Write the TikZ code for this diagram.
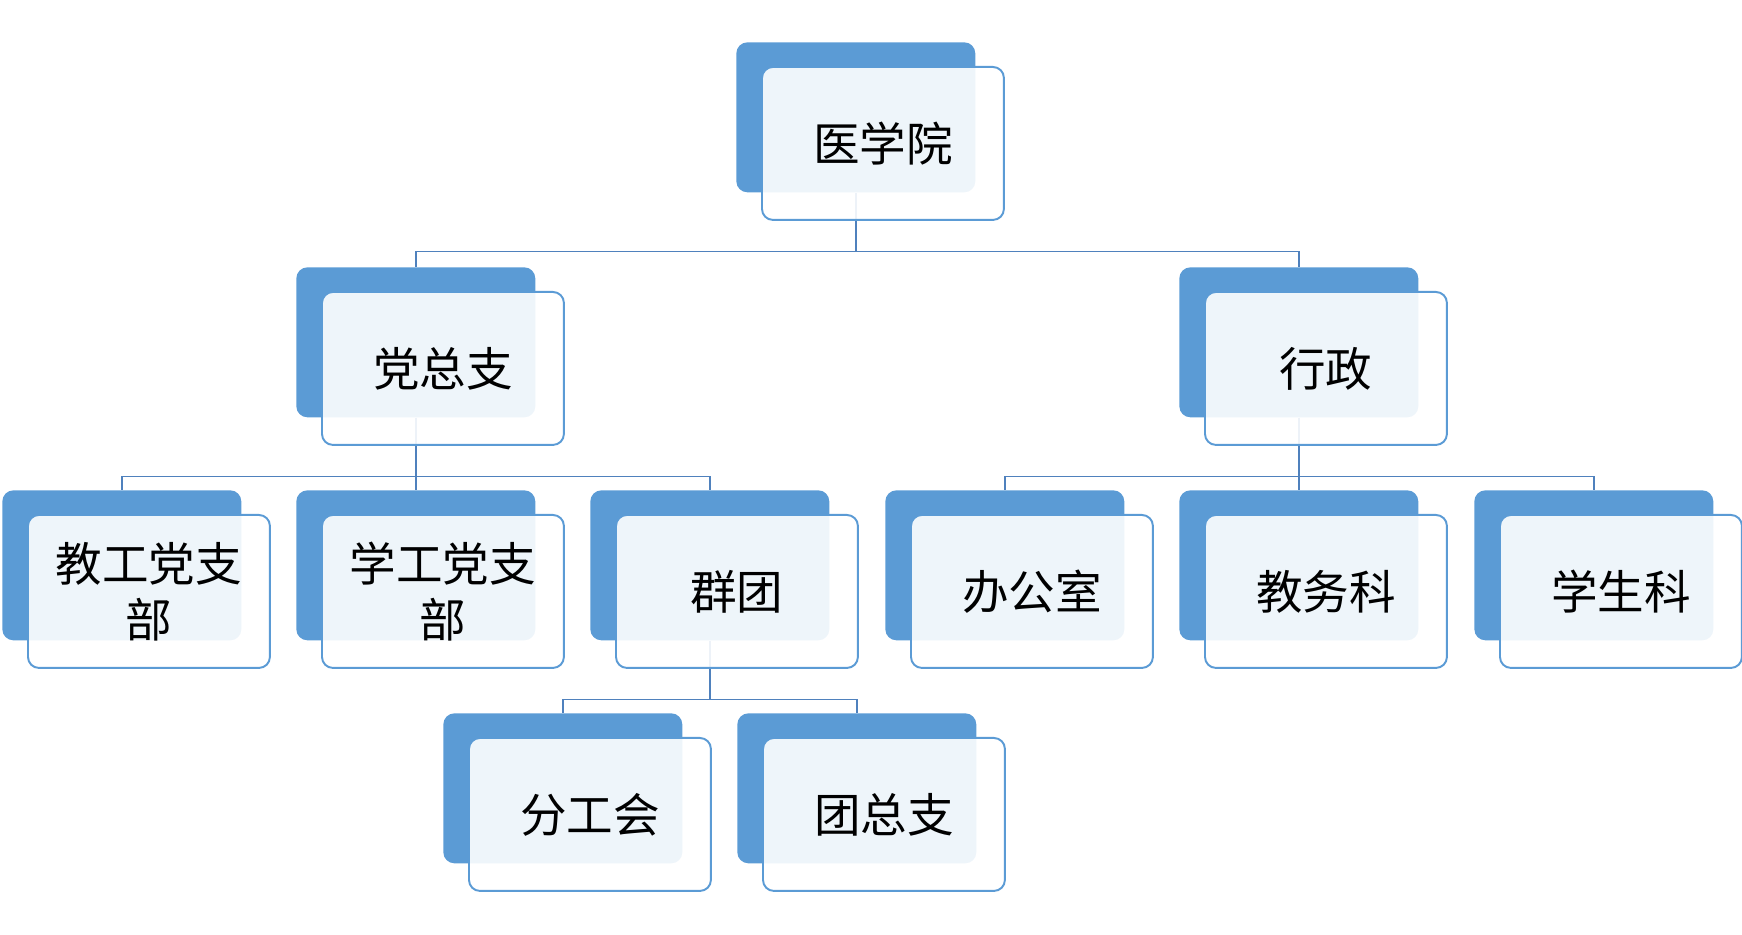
\documentclass[tikz,border=0pt]{standalone}
\usepackage{fontspec}
\setmainfont{Noto Sans CJK SC}
\usepackage{tikz}
\definecolor{boxblue}{HTML}{5B9BD5}
\definecolor{linkblue}{HTML}{4F81BD}

\begin{document}
\begin{tikzpicture}[
  x=0.02cm, y=-0.02cm,
  font=\fontsize{26.5}{32}\selectfont,
  back/.style={fill=boxblue, rounded corners=0.22cm, anchor=north west, minimum width=4.78cm, minimum height=3cm, inner sep=0pt},
  front/.style={draw=boxblue, fill=white, fill opacity=0.9, text opacity=1, line width=1.1pt, rounded corners=0.22cm, anchor=north west, minimum width=4.84cm, minimum height=3.06cm, align=center, inner sep=2pt},
  link/.style={draw=linkblue, line width=0.85pt},
]
\useasboundingbox (0,0) rectangle (1742,935);
% back plates
\node[back] (yxy-b) at (736,42)  {};
\node[back] (dzz-b) at (296,267) {};
\node[back] (xz-b)  at (1179,267) {};
\node[back] (jg-b)  at (2,490)   {};
\node[back] (xg-b)  at (296,490) {};
\node[back] (qt-b)  at (590,490) {};
\node[back] (bgs-b) at (885,490) {};
\node[back] (jwk-b) at (1179,490) {};
\node[back] (xsk-b) at (1474,490) {};
\node[back] (fgh-b) at (443,713) {};
\node[back] (tzz-b) at (737,713) {};
% links
\draw[link] (yxy-b.south) -- ++(0,-1.18cm) -| (dzz-b.north);
\draw[link] (yxy-b.south) -- ++(0,-1.18cm) -| (xz-b.north);
\draw[link] (dzz-b.south) -- ++(0,-1.18cm) -| (jg-b.north);
\draw[link] (dzz-b.south) -- ++(0,-1.18cm) -| (xg-b.north);
\draw[link] (dzz-b.south) -- ++(0,-1.18cm) -| (qt-b.north);
\draw[link] (xz-b.south) -- ++(0,-1.18cm) -| (bgs-b.north);
\draw[link] (xz-b.south) -- ++(0,-1.18cm) -| (jwk-b.north);
\draw[link] (xz-b.south) -- ++(0,-1.18cm) -| (xsk-b.north);
\draw[link] (qt-b.south) -- ++(0,-1.18cm) -| (fgh-b.north);
\draw[link] (qt-b.south) -- ++(0,-1.18cm) -| (tzz-b.north);
% front cards
\node[front] (yxy) at ([shift={(25,24)}]yxy-b.north west) {医学院};
\node[front] (dzz) at ([shift={(25,24)}]dzz-b.north west) {党总支};
\node[front] (xz)  at ([shift={(25,24)}]xz-b.north west)  {行政};
\node[front] (jg)  at ([shift={(25,24)}]jg-b.north west)  {教工党支\\部};
\node[front] (xg)  at ([shift={(25,24)}]xg-b.north west)  {学工党支\\部};
\node[front] (qt)  at ([shift={(25,24)}]qt-b.north west)  {群团};
\node[front] (bgs) at ([shift={(25,24)}]bgs-b.north west) {办公室};
\node[front] (jwk) at ([shift={(25,24)}]jwk-b.north west) {教务科};
\node[front] (xsk) at ([shift={(25,24)}]xsk-b.north west) {学生科};
\node[front] (fgh) at ([shift={(25,24)}]fgh-b.north west) {分工会};
\node[front] (tzz) at ([shift={(25,24)}]tzz-b.north west) {团总支};
\end{tikzpicture}
\end{document}
